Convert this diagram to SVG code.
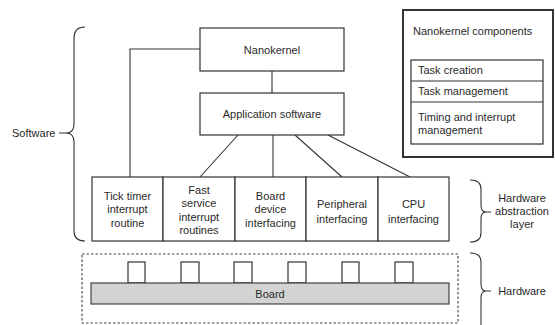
<svg xmlns="http://www.w3.org/2000/svg" width="555" height="325" viewBox="0 0 555 325">
  <style>
    text { font-family: "Liberation Sans", Arial, sans-serif; font-size: 11px; fill: #2a2a2a; }
    .c { text-anchor: middle; }
    .box { fill: #fff; stroke: #333; stroke-width: 1.2; }
    .line { fill: none; stroke: #333; stroke-width: 1.1; }
    .brace { fill: none; stroke: #333; stroke-width: 1.1; }
  </style>
  <rect width="555" height="325" fill="#fff"/>

  <!-- connectors -->
  <g id="connectors">
    <polyline class="line" points="200,49 130,49 130,177"/>
    <line class="line" x1="272" y1="71" x2="272" y2="93"/>
    <line class="line" x1="238" y1="135" x2="200" y2="177"/>
    <line class="line" x1="273" y1="135" x2="273" y2="177"/>
    <line class="line" x1="295" y1="135" x2="342" y2="177"/>
    <line class="line" x1="328" y1="135" x2="410" y2="177"/>
  </g>

  <g id="nanokernel">
    <rect class="box" x="200" y="28" width="144" height="43"/>
    <text class="c" x="272" y="54">Nanokernel</text>
  </g>

  <g id="application-software">
    <rect class="box" x="200" y="93" width="144" height="42"/>
    <text class="c" x="272" y="118">Application software</text>
  </g>

  <!-- hardware abstraction layer row -->
  <g id="tick-timer">
    <rect class="box" x="92" y="177" width="71" height="64"/>
    <text class="c" x="127.5" y="200">Tick timer</text>
    <text class="c" x="127.5" y="213">interrupt</text>
    <text class="c" x="127.5" y="227">routine</text>
  </g>
  <g id="fast-service">
    <rect class="box" x="163" y="177" width="72" height="64"/>
    <text class="c" x="199" y="194">Fast</text>
    <text class="c" x="199" y="207">service</text>
    <text class="c" x="199" y="221">interrupt</text>
    <text class="c" x="199" y="234">routines</text>
  </g>
  <g id="board-device">
    <rect class="box" x="235" y="177" width="71" height="64"/>
    <text class="c" x="270.5" y="200">Board</text>
    <text class="c" x="270.5" y="213">device</text>
    <text class="c" x="270.5" y="227">interfacing</text>
  </g>
  <g id="peripheral">
    <rect class="box" x="306" y="177" width="72" height="64"/>
    <text class="c" x="342" y="208">Peripheral</text>
    <text class="c" x="342" y="223">interfacing</text>
  </g>
  <g id="cpu">
    <rect class="box" x="378" y="177" width="71" height="64"/>
    <text class="c" x="413.5" y="208">CPU</text>
    <text class="c" x="413.5" y="223">interfacing</text>
  </g>

  <!-- hardware -->
  <g id="hardware">
    <rect x="82" y="254" width="376" height="69" fill="none" stroke="#444" stroke-width="1.1" stroke-dasharray="2.5,2"/>
    <g class="box">
      <rect x="128" y="262" width="17" height="21"/>
      <rect x="181" y="262" width="18" height="21"/>
      <rect x="234" y="262" width="18" height="21"/>
      <rect x="288" y="262" width="18" height="21"/>
      <rect x="342" y="262" width="17" height="21"/>
      <rect x="395" y="262" width="18" height="21"/>
    </g>
    <rect x="91" y="283" width="358" height="21" fill="#d3d3d3" stroke="#333" stroke-width="1.1"/>
    <text class="c" x="270" y="298">Board</text>
  </g>

  <!-- braces and labels -->
  <g id="software-label">
    <path class="brace" d="M85,27 Q74,27 74,38 L74,124 Q74,133 66,133 L59,133 M66,133 Q74,133 74,142 L74,231 Q74,241 85,241"/>
    <text x="12" y="137">Software</text>
  </g>
  <g id="hal-label">
    <path class="brace" d="M470,180 Q481,180 481,189 L481,205 Q481,212 486,212 L491,212 M486,212 Q481,212 481,219 L481,233 Q481,242 470,242"/>
    <text class="c" x="522" y="202">Hardware</text>
    <text class="c" x="522" y="215">abstraction</text>
    <text class="c" x="522" y="228">layer</text>
  </g>
  <g id="hardware-label">
    <path class="brace" d="M470,253 Q481,253 481,262 L481,284 Q481,291 486,291 L491,291 M486,291 Q481,291 481,298 L481,325"/>
    <text class="c" x="522" y="295">Hardware</text>
  </g>

  <!-- nanokernel components legend -->
  <g id="components">
    <rect x="403" y="10" width="150" height="147" fill="#fff" stroke="#333" stroke-width="2"/>
    <text x="413" y="35">Nanokernel components</text>
    <rect class="box" x="411" y="60" width="132" height="84"/>
    <line class="line" x1="411" y1="81" x2="543" y2="81"/>
    <line class="line" x1="411" y1="102" x2="543" y2="102"/>
    <text x="418" y="74">Task creation</text>
    <text x="418" y="95">Task management</text>
    <text x="418" y="121">Timing and interrupt</text>
    <text x="418" y="134">management</text>
  </g>
</svg>
